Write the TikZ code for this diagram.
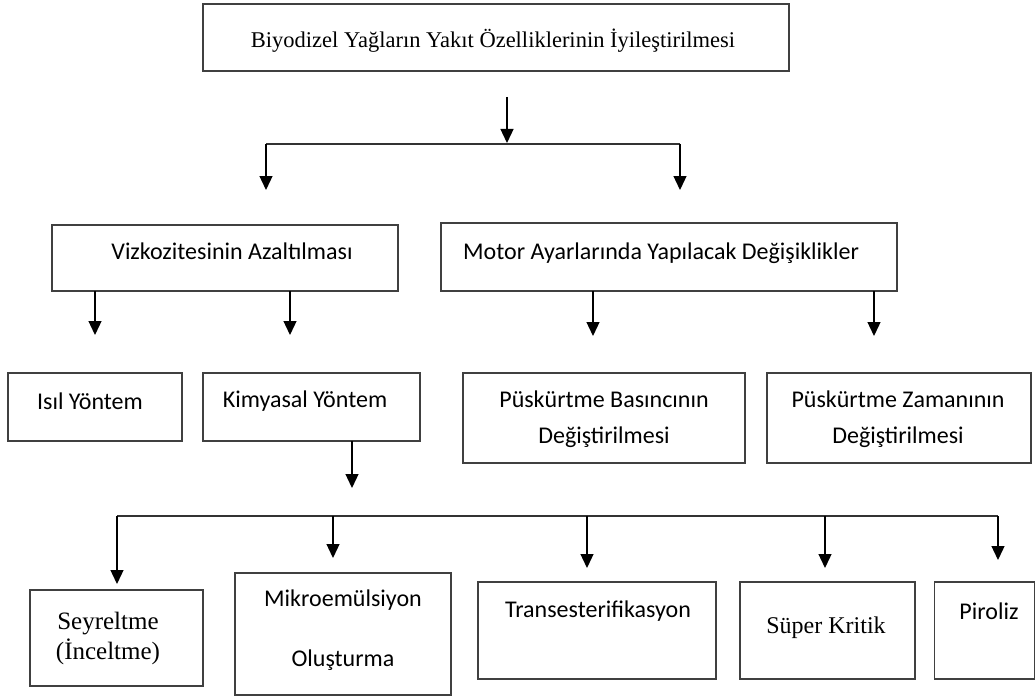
\documentclass[tikz,border=0pt]{standalone}
\usepackage{fontspec}
\setmainfont{Liberation Serif}
\newfontfamily\calfont{Carlito}
\usetikzlibrary{arrows.meta}
\begin{document}
\begin{tikzpicture}[x=1pt,y=-1pt,
  box/.style={draw=black!75, line width=1.9pt, rectangle, inner sep=0pt},
  sans/.style={font=\calfont\fontsize{24}{36}\selectfont, inner sep=0pt, align=center},
  serif/.style={font=\fontsize{22.5}{30}\selectfont, inner sep=0pt, align=center},
  arr/.style={line width=1.3pt, draw=black, -{Triangle[width=13pt,length=14pt]}},
  bar/.style={line width=1.7pt, draw=black!80}]
\useasboundingbox (0,0) rectangle (1036,698);

% boxes
\node[box, minimum width=586pt, minimum height=67pt] (top) at (496,37.5) {};
\node[box, minimum width=346pt, minimum height=66pt] (vizk) at (225,258) {};
\node[box, minimum width=456pt, minimum height=68pt] (motor) at (669,257) {};
\node[box, minimum width=174pt, minimum height=68pt] (isil) at (95,407) {};
\node[box, minimum width=217pt, minimum height=68pt] (kim) at (311.5,407) {};
\node[box, minimum width=282pt, minimum height=90pt] (puskB) at (604,418) {};
\node[box, minimum width=264pt, minimum height=90pt] (puskZ) at (899,418) {};
\node[box, minimum width=173pt, minimum height=96pt] (sey) at (116.5,638) {};
\node[box, minimum width=216pt, minimum height=122pt] (mikro) at (343,634) {};
\node[box, minimum width=238pt, minimum height=97pt] (trans) at (597,630.5) {};
\node[box, minimum width=175pt, minimum height=97pt] (super) at (827.5,630.5) {};
\node[box, minimum width=100pt, minimum height=97pt] (piro) at (984.5,630.5) {};

% texts
\node[serif] (topT) at (493,41) {Biyodizel Yağların Yakıt Özelliklerinin İyileştirilmesi};
\node[sans] (vizkT) at (232,251) {Vizkozitesinin Azaltılması};
\node[sans, anchor=west] (motorT) at (463,253) {Motor Ayarlarında Yapılacak Değişiklikler};
\node[sans] (isilT) at (90,401) {Isıl Yöntem};
\node[sans] (kimT) at (305,401) {Kimyasal Yöntem};
\node[sans] (puskBT) at (604,419) {Püskürtme Basıncının\\Değiştirilmesi};
\node[sans] (puskZT) at (898,419) {Püskürtme Zamanının\\Değiştirilmesi};
\node[serif, font=\fontsize{25}{30}\selectfont] (seyT) at (108,638) {Seyreltme\\(İnceltme)};
\node[sans, font=\calfont\fontsize{24}{60}\selectfont] (mikroT) at (343,630) {Mikroemülsiyon\\Oluşturma};
\node[sans] (transT) at (598,611) {Transesterifikasyon};
\node[serif, font=\fontsize{24}{30}\selectfont] (superT) at (826,628) {Süper Kritik};
\node[sans] (piroT) at (989,611) {Piroliz};

% coordinates
\coordinate (c0) at (507,97);
\coordinate (j0) at (507,143);
\coordinate (jl) at (266,144);
\coordinate (jr) at (680,144);
\coordinate (jlE) at (266,190);
\coordinate (jrE) at (680,190);
\coordinate (v1) at (95,291);  \coordinate (v1E) at (95,335);
\coordinate (v2) at (290,291); \coordinate (v2E) at (290,335);
\coordinate (m1) at (593,291); \coordinate (m1E) at (593,336);
\coordinate (m2) at (874,291); \coordinate (m2E) at (874,336);
\coordinate (k0) at (352,441); \coordinate (k0E) at (352,488);
\coordinate (b1) at (117,516); \coordinate (b1E) at (117,584);
\coordinate (b2) at (333,516); \coordinate (b2E) at (333,558);
\coordinate (b3) at (587,516); \coordinate (b3E) at (587,568);
\coordinate (b4) at (825,516); \coordinate (b4E) at (825,568);
\coordinate (b5) at (998,516); \coordinate (b5E) at (998,560);

% connectors
\draw[arr] (c0) -- (j0);
\draw[bar] (jl) -- (jr);
\draw[arr] (jl) -- (jlE);
\draw[arr] (jr) -- (jrE);
\draw[arr] (v1) -- (v1E);
\draw[arr] (v2) -- (v2E);
\draw[arr] (m1) -- (m1E);
\draw[arr] (m2) -- (m2E);
\draw[arr] (k0) -- (k0E);
\draw[bar] (b1) -- (b5);
\draw[arr] (b1) -- (b1E);
\draw[arr] (b2) -- (b2E);
\draw[arr] (b3) -- (b3E);
\draw[arr] (b4) -- (b4E);
\draw[arr] (b5) -- (b5E);
\end{tikzpicture}
\end{document}
